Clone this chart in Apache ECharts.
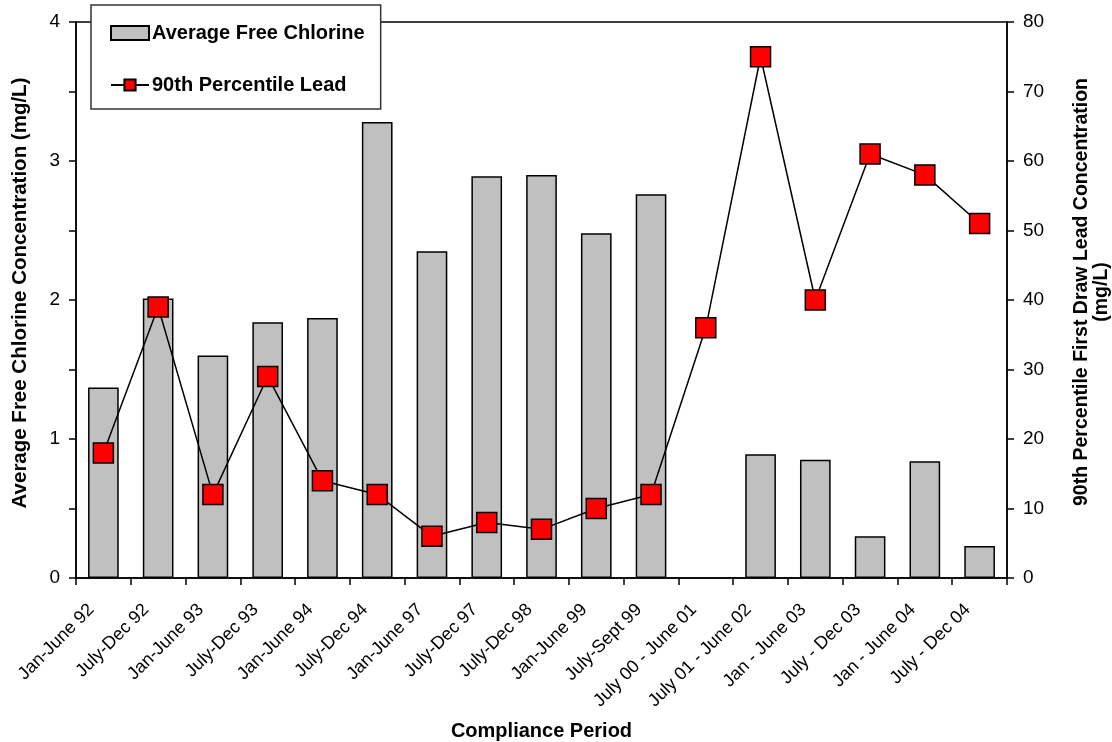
<!DOCTYPE html>
<html>
<head>
<meta charset="utf-8">
<script src="https://cdn.jsdelivr.net/npm/echarts@6/dist/echarts.min.js"></script>
<style>
  html, body { margin: 0; padding: 0; background: #fff; }
  #chart { width: 1112px; height: 742px; }
</style>
</head>
<body>
<div id="chart"></div>
<script>
// 合规周期（横轴类目）
const PERIODS = [
  'Jan-June 92', 'July-Dec 92', 'Jan-June 93', 'July-Dec 93', 'Jan-June 94',
  'July-Dec 94', 'Jan-June 97', 'July-Dec 97', 'July-Dec 98', 'Jan-June 99',
  'July-Sept 99', 'July 00 - June 01', 'July 01 - June 02', 'Jan - June 03',
  'July - Dec 03', 'Jan - June 04', 'July - Dec 04'
];

// 平均游离氯浓度 (mg/L)，左轴
const CHLORINE = [1.37, 2.01, 1.60, 1.84, 1.87, 3.28, 2.35, 2.89, 2.90, 2.48,
  2.76, null, 0.89, 0.85, 0.30, 0.84, 0.23];

// 90th 百分位铅浓度，右轴
const LEAD = [18, 39, 12, 29, 14, 12, 6, 8, 7, 10, 12, 36, 75, 40, 61, 58, 51];

const FONT = 'Liberation Sans, Arial, sans-serif';

const chart = echarts.init(document.getElementById('chart'));

const option = {
  animation: false,
  textStyle: { fontFamily: FONT, color: '#000' },
  grid: {
    left: 76, right: 105, top: 22, bottom: 164,
    outerBoundsMode: 'none',
    containLabel: false,
    show: true, borderColor: '#000', borderWidth: 1.5
  },
  legend: {
    orient: 'vertical',
    left: 91, top: 5,
    padding: [18, 16, 14, 19],
    itemGap: 32,
    itemWidth: 38,
    itemHeight: 14,
    backgroundColor: '#fff',
    borderColor: '#333',
    borderWidth: 1.5,
    textStyle: { fontFamily: FONT, fontWeight: 'bold', fontSize: 20, color: '#000', padding: [0, 0, 0, -2] },
    data: [
      { name: 'Average Free Chlorine', icon: 'rect' },
      { name: '90th Percentile Lead' }
    ]
  },
  xAxis: {
    type: 'category',
    data: PERIODS,
    name: 'Compliance Period',
    nameLocation: 'middle',
    nameGap: 143,
    nameTextStyle: { fontFamily: FONT, fontWeight: 'bold', fontSize: 20, color: '#000' },
    axisLine: { lineStyle: { color: '#000', width: 1.5 } },
    axisTick: { show: true, lineStyle: { color: '#000', width: 1.5 }, length: 7 },
    axisLabel: {
      rotate: 45, fontSize: 18, color: '#000', fontFamily: FONT, interval: 0,
      margin: 17, padding: [0, 17, 0, 0]
    }
  },
  yAxis: [
    {
      type: 'value',
      min: 0, max: 4, interval: 0.5,
      name: 'Average Free Chlorine Concentration (mg/L)',
      nameLocation: 'middle',
      nameGap: 45,
      nameTextStyle: { fontFamily: FONT, fontWeight: 'bold', fontSize: 20.5, color: '#000', padding: [0, 0, 0, 14] },
      axisLine: { show: true, lineStyle: { color: '#000', width: 1.5 } },
      axisTick: { show: true, length: 7, lineStyle: { color: '#000', width: 1.5 } },
      axisLabel: {
        fontSize: 19, color: '#000', fontFamily: FONT, margin: 16,
        formatter: v => (v % 1 === 0 ? String(v) : '')
      },
      splitLine: { show: false }
    },
    {
      type: 'value',
      min: 0, max: 80, interval: 10,
      position: 'right',
      name: '90th Percentile First Draw Lead Concentration\n(mg/L)',
      nameLocation: 'middle',
      nameGap: 65,
      nameTextStyle: { fontFamily: FONT, fontWeight: 'bold', fontSize: 19.5, color: '#000', lineHeight: 20, padding: [0, 0, 0, 16] },
      axisLine: { show: true, lineStyle: { color: '#000', width: 1.5 } },
      axisTick: { show: true, length: 7, lineStyle: { color: '#000', width: 1.5 } },
      axisLabel: { fontSize: 19, color: '#000', fontFamily: FONT, margin: 16 },
      splitLine: { show: false }
    }
  ],
  series: [
    {
      name: 'Average Free Chlorine',
      type: 'bar',
      yAxisIndex: 0,
      data: CHLORINE,
      barWidth: '56%',
      itemStyle: { color: '#c0c0c0', borderColor: '#000', borderWidth: 1.5 }
    },
    {
      name: '90th Percentile Lead',
      type: 'line',
      yAxisIndex: 1,
      data: LEAD,
      symbol: 'rect',
      symbolSize: 20,
      lineStyle: { color: '#000', width: 1.5 },
      itemStyle: { color: '#ff0000', borderColor: '#000', borderWidth: 1.5 },
      z: 5
    }
  ]
};

chart.setOption(option);
</script>
</body>
</html>
